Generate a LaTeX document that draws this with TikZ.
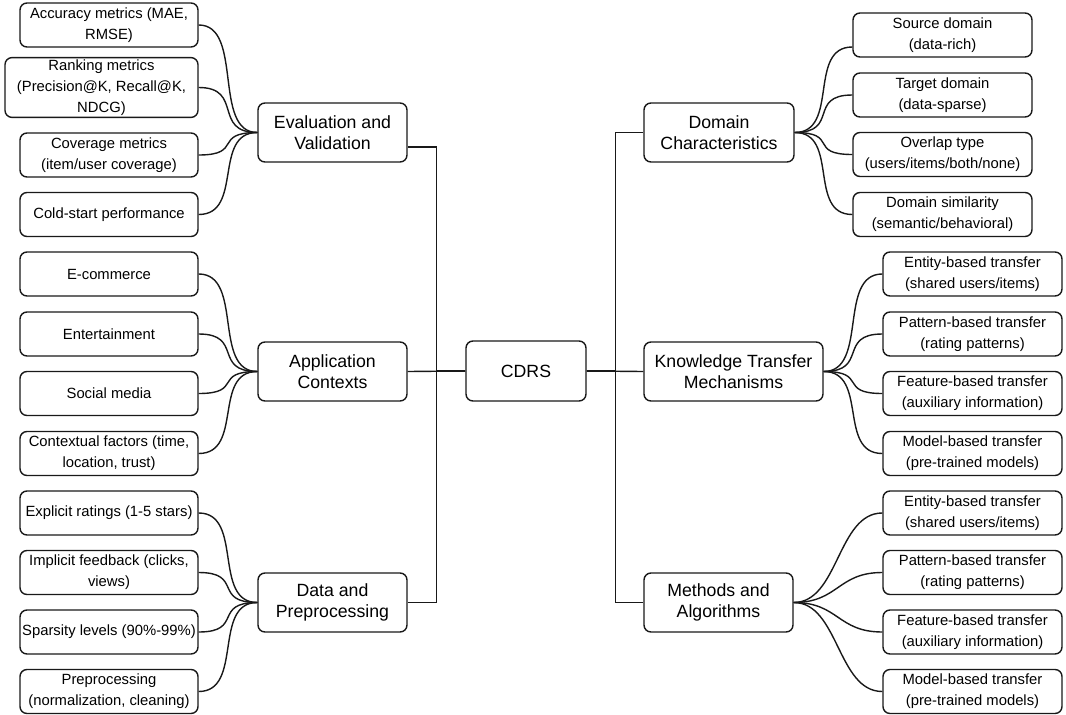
\documentclass[tikz,border=0pt]{standalone}
\usepackage{fontspec}
\setmainfont{Liberation Sans}
\tikzset{
    leaf/.style={draw=black!90, line width=1.4pt, rounded corners=7pt, minimum width=178pt, minimum height=44pt, inner sep=2pt, align=center, font=\fontsize{14.8}{21}\selectfont},
    branch/.style={leaf, minimum width=149pt, minimum height=59pt, font=\fontsize{17.7}{21}\selectfont},
    link/.style={draw=black!90, line width=1.4pt},
}
\begin{document}
\begin{tikzpicture}[x=1pt, y=-1pt]
    \useasboundingbox (0,0) rectangle (1066,715);

    % Root
    \node[branch, minimum width=120pt, minimum height=60pt] (cdrs) at (526,371) {CDRS};

    % Left branches
    \node[branch] (eval) at (332.5,132.5) {Evaluation and\\Validation};
    \node[branch] (app) at (332.5,371.5) {Application\\Contexts};
    \node[branch] (data) at (332.5,602.5) {Data and\\Preprocessing};

    % Right branches
    \node[branch, minimum width=150pt] (dom) at (719,132.5) {Domain\\Characteristics};
    \node[branch, minimum width=179pt] (ktm) at (733.5,371.5) {Knowledge Transfer\\Mechanisms};
    \node[branch] (meth) at (718.5,602.5) {Methods and\\Algorithms};

    % Evaluation leaves
    \node[leaf] (acc) at (109,25) {Accuracy metrics (MAE,\\RMSE)};
    \node[leaf, minimum width=193pt, minimum height=59pt] (rank) at (101.5,87.5) {Ranking metrics\\(Precision@K, Recall@K,\\NDCG)};
    \node[leaf] (cov) at (109,155) {Coverage metrics\\(item/user coverage)};
    \node[leaf] (cold) at (109,214.5) {Cold-start performance};

    % Application leaves
    \node[leaf] (ecom) at (109,274) {E-commerce};
    \node[leaf] (ent) at (109,334) {Entertainment};
    \node[leaf] (soc) at (109,393.5) {Social media};
    \node[leaf] (ctx) at (109,453.5) {Contextual factors (time,\\location, trust)};

    % Data leaves
    \node[leaf] (expl) at (109,513) {Explicit ratings (1-5 stars)};
    \node[leaf] (impl) at (109,572.5) {Implicit feedback (clicks,\\views)};
    \node[leaf] (spars) at (109,632) {Sparsity levels (90\%-99\%)};
    \node[leaf] (prep) at (109,691.5) {Preprocessing\\(normalization, cleaning)};

    % Domain leaves
    \node[leaf, minimum width=179pt] (src) at (942.5,35) {Source domain\\(data-rich)};
    \node[leaf, minimum width=179pt] (tgt) at (942.5,95) {Target domain\\(data-sparse)};
    \node[leaf, minimum width=179pt] (ovl) at (942.5,154.5) {Overlap type\\(users/items/both/none)};
    \node[leaf, minimum width=179pt] (sim) at (942.5,214.5) {Domain similarity\\(semantic/behavioral)};

    % Transfer leaves
    \node[leaf, minimum width=179pt] (kent) at (972.5,274) {Entity-based transfer\\(shared users/items)};
    \node[leaf, minimum width=179pt] (kpat) at (972.5,334) {Pattern-based transfer\\(rating patterns)};
    \node[leaf, minimum width=179pt] (kfeat) at (972.5,393.5) {Feature-based transfer\\(auxiliary information)};
    \node[leaf, minimum width=179pt] (kmod) at (972.5,453.5) {Model-based transfer\\(pre-trained models)};

    % Methods leaves
    \node[leaf, minimum width=179pt] (ment) at (972.5,513) {Entity-based transfer\\(shared users/items)};
    \node[leaf, minimum width=179pt] (mpat) at (972.5,572.5) {Pattern-based transfer\\(rating patterns)};
    \node[leaf, minimum width=179pt] (mfeat) at (972.5,632) {Feature-based transfer\\(auxiliary information)};
    \node[leaf, minimum width=179pt] (mmod) at (972.5,691.5) {Model-based transfer\\(pre-trained models)};

    % Root connectors
    \draw[link] (cdrs.west) -- (app.east);
    \draw[link] (cdrs.west) -- ++(-29,0) |- ([yshift=-14.5pt]eval.east);
    \draw[link] (cdrs.west) -- ++(-29,0) |- (data.east);
    \draw[link] (cdrs.east) -- (ktm.west);
    \draw[link] (cdrs.east) -- ++(29,0) |- (dom.west);
    \draw[link] (cdrs.east) -- ++(29,0) |- (meth.west);

    % Left curves
    \draw[link] (eval.west) .. controls +(-45,0) and +(45,0) .. (acc.east);
    \draw[link] (eval.west) .. controls +(-45,0) and +(45,0) .. (rank.east);
    \draw[link] (eval.west) .. controls +(-45,0) and +(45,0) .. (cov.east);
    \draw[link] (eval.west) .. controls +(-45,0) and +(45,0) .. (cold.east);
    \draw[link] (app.west) .. controls +(-45,0) and +(45,0) .. (ecom.east);
    \draw[link] (app.west) .. controls +(-45,0) and +(45,0) .. (ent.east);
    \draw[link] (app.west) .. controls +(-45,0) and +(45,0) .. (soc.east);
    \draw[link] (app.west) .. controls +(-45,0) and +(45,0) .. (ctx.east);
    \draw[link] (data.west) .. controls +(-45,0) and +(45,0) .. (expl.east);
    \draw[link] (data.west) .. controls +(-45,0) and +(45,0) .. (impl.east);
    \draw[link] (data.west) .. controls +(-45,0) and +(45,0) .. (spars.east);
    \draw[link] (data.west) .. controls +(-45,0) and +(45,0) .. (prep.east);

    % Right curves
    \draw[link] (dom.east) .. controls +(45,0) and +(-45,0) .. ([yshift=-12pt]src.west);
    \draw[link] (dom.east) .. controls +(45,0) and +(-45,0) .. (tgt.west);
    \draw[link] (dom.east) .. controls +(45,0) and +(-45,0) .. (ovl.west);
    \draw[link] (dom.east) .. controls +(45,0) and +(-45,0) .. (sim.west);
    \draw[link] (ktm.east) .. controls +(45,0) and +(-45,0) .. (kent.west);
    \draw[link] (ktm.east) .. controls +(45,0) and +(-45,0) .. (kpat.west);
    \draw[link] (ktm.east) .. controls +(45,0) and +(-45,0) .. (kfeat.west);
    \draw[link] (ktm.east) .. controls +(45,0) and +(-45,0) .. (kmod.west);
    \draw[link] (meth.east) .. controls +(45,0) and +(-45,0) .. (ment.west);
    \draw[link] (meth.east) .. controls +(45,0) and +(-45,0) .. (mpat.west);
    \draw[link] (meth.east) .. controls +(45,0) and +(-45,0) .. (mfeat.west);
    \draw[link] (meth.east) .. controls +(45,0) and +(-45,0) .. (mmod.west);
\end{tikzpicture}
\end{document}
